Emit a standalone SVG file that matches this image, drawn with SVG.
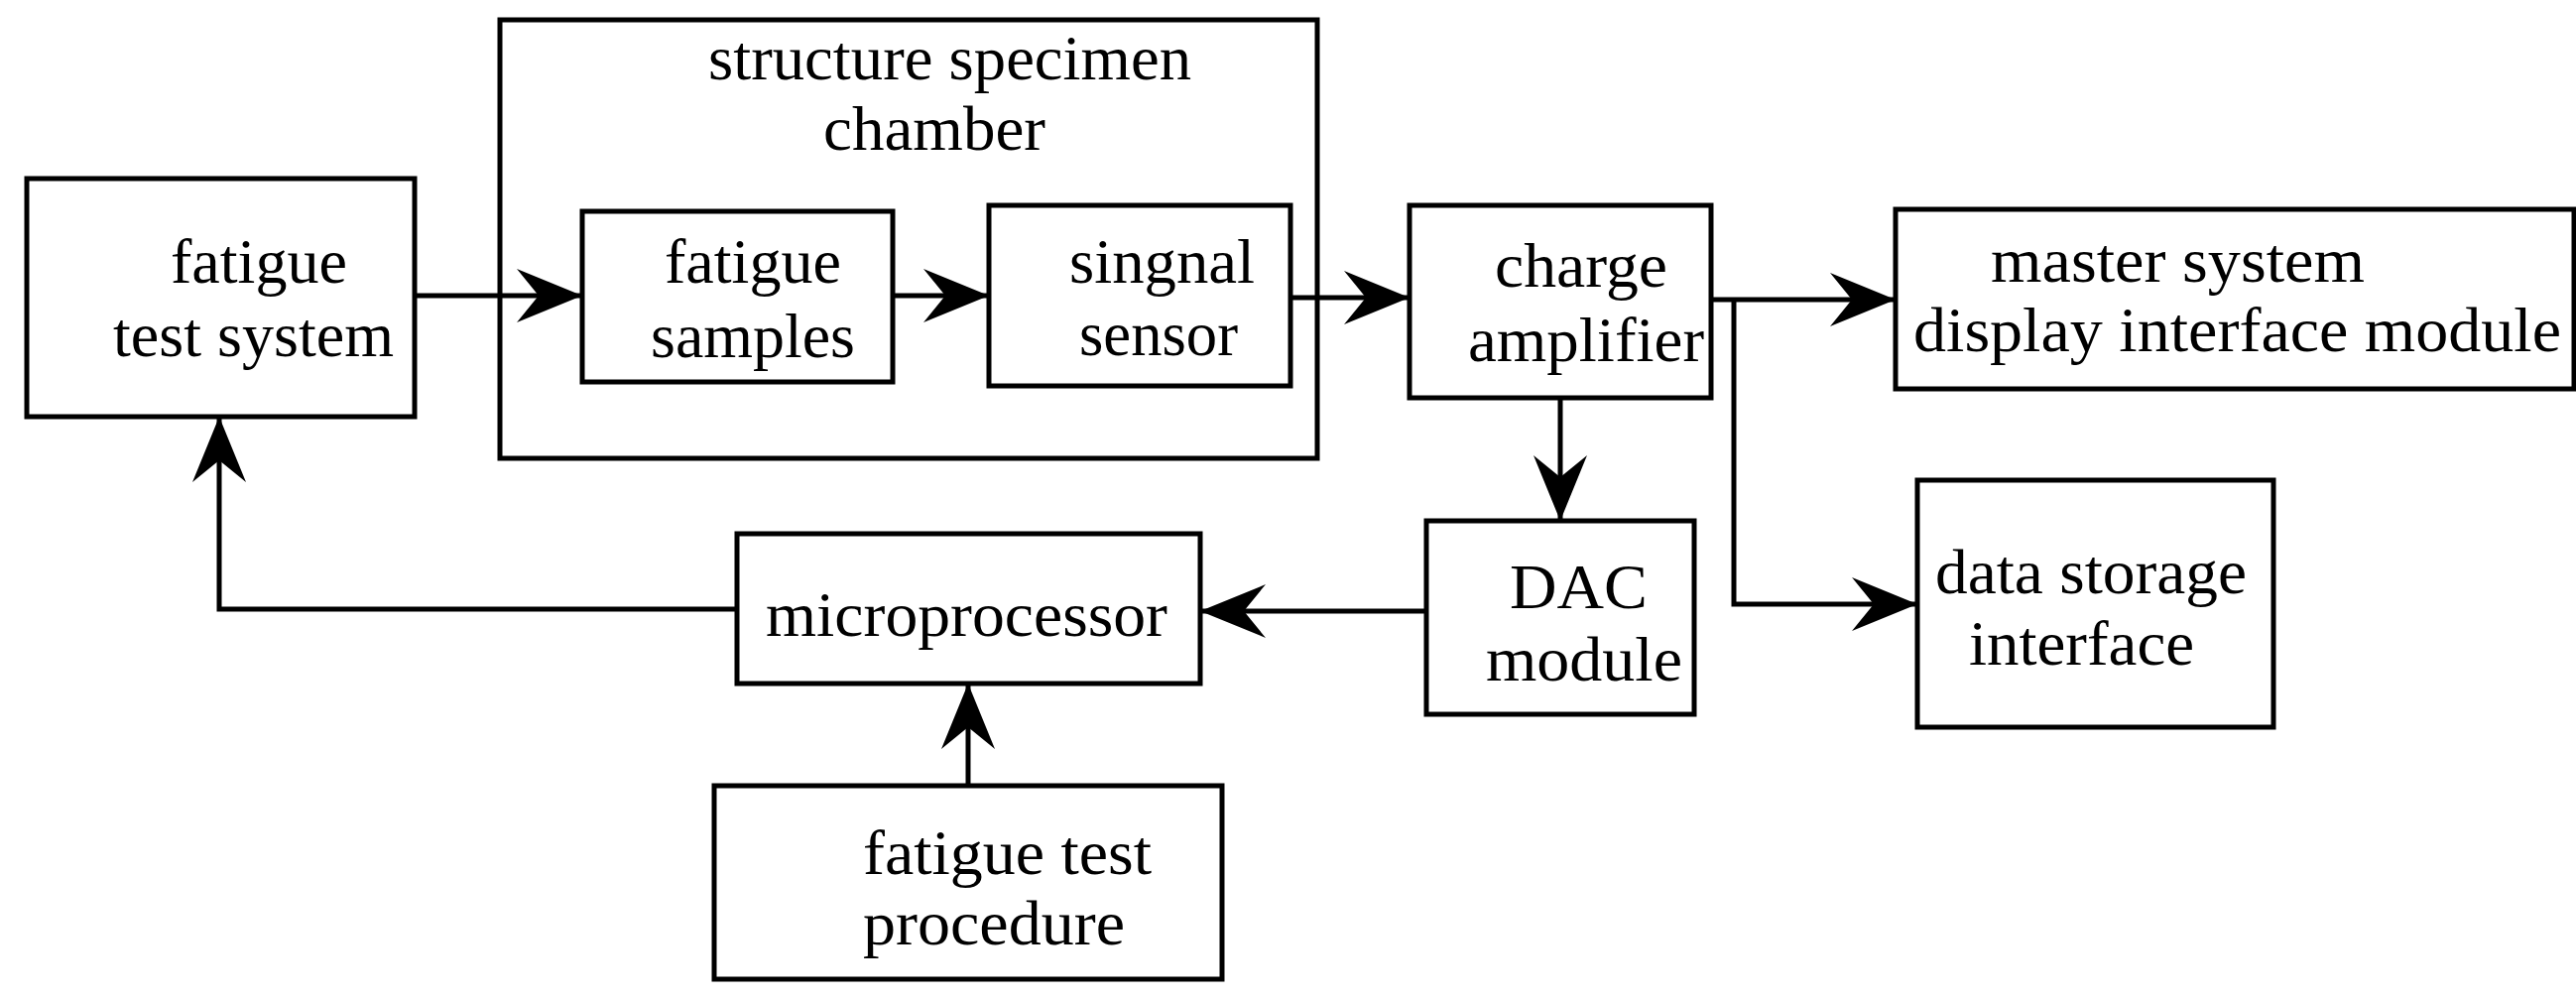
<svg xmlns="http://www.w3.org/2000/svg" width="2597" height="1008" viewBox="0 0 2597 1008">
<style>
rect{fill:none;stroke:#000;stroke-width:5}
text{font-family:"Liberation Serif","Times New Roman",serif;font-size:64px;fill:#000}
.c line,.c polyline{stroke:#000;stroke-width:5;fill:none;marker-end:url(#ah)}
</style>
<defs>
<marker id="ah" markerUnits="userSpaceOnUse" markerWidth="80" markerHeight="60" viewBox="-70 -30 80 60" refX="0" refY="0" orient="auto">
<path d="M0,0 L-66,-27 L-44,0 L-66,27 Z" fill="#000"/>
</marker>
</defs>
<rect x="0" y="0" width="2597" height="1008" style="fill:#fff;stroke:none"/>
<g id="test-system"><rect x="27" y="180" width="391" height="240"/>
<text x="172" y="285" textLength="178" lengthAdjust="spacingAndGlyphs">fatigue</text>
<text x="114" y="359" textLength="283" lengthAdjust="spacingAndGlyphs">test system</text></g>
<g id="chamber"><rect x="504" y="20" width="824" height="442"/>
<text x="714" y="80" textLength="487" lengthAdjust="spacingAndGlyphs">structure specimen</text>
<text x="830" y="151" textLength="224" lengthAdjust="spacingAndGlyphs">chamber</text></g>
<g id="samples"><rect x="587" y="213" width="313" height="172"/>
<text x="670" y="285" textLength="178" lengthAdjust="spacingAndGlyphs">fatigue</text>
<text x="656" y="360" textLength="206" lengthAdjust="spacingAndGlyphs">samples</text></g>
<g id="sensor"><rect x="997" y="207" width="304" height="182"/>
<text x="1078" y="285" textLength="187" lengthAdjust="spacingAndGlyphs">singnal</text>
<text x="1088" y="358" textLength="160" lengthAdjust="spacingAndGlyphs">sensor</text></g>
<g id="charge"><rect x="1421" y="207" width="304" height="194"/>
<text x="1507" y="289" textLength="174" lengthAdjust="spacingAndGlyphs">charge</text>
<text x="1480" y="364" textLength="238" lengthAdjust="spacingAndGlyphs">amplifier</text></g>
<g id="master"><rect x="1911" y="211" width="684" height="181"/>
<text x="2007" y="284" textLength="377" lengthAdjust="spacingAndGlyphs">master system</text>
<text x="1929" y="354" textLength="653" lengthAdjust="spacingAndGlyphs">display interface module</text></g>
<g id="dac"><rect x="1438" y="525" width="270" height="195"/>
<text x="1522" y="613" textLength="139" lengthAdjust="spacingAndGlyphs">DAC</text>
<text x="1498" y="686" textLength="198" lengthAdjust="spacingAndGlyphs">module</text></g>
<g id="storage"><rect x="1933" y="484" width="359" height="249"/>
<text x="1951" y="598" textLength="314" lengthAdjust="spacingAndGlyphs">data storage</text>
<text x="1985" y="670" textLength="227" lengthAdjust="spacingAndGlyphs">interface</text></g>
<g id="micro"><rect x="743" y="538" width="467" height="151"/>
<text x="772" y="641" textLength="405" lengthAdjust="spacingAndGlyphs">microprocessor</text></g>
<g id="procedure"><rect x="720" y="792" width="512" height="195"/>
<text x="870" y="881" textLength="291" lengthAdjust="spacingAndGlyphs">fatigue test</text>
<text x="870" y="952" textLength="264" lengthAdjust="spacingAndGlyphs">procedure</text></g>
<g class="c" id="connectors">
<line x1="418" y1="298" x2="587" y2="298"/>
<line x1="900" y1="298" x2="997" y2="298"/>
<line x1="1301" y1="300" x2="1421" y2="300"/>
<line x1="1725" y1="302" x2="1911" y2="302"/>
<polyline points="1748,302 1748,609 1933,609"/>
<line x1="1573" y1="401" x2="1573" y2="525"/>
<line x1="1438" y1="616" x2="1210" y2="616"/>
<polyline points="743,614 221,614 221,420"/>
<line x1="976" y1="792" x2="976" y2="689"/>
</g>
</svg>
